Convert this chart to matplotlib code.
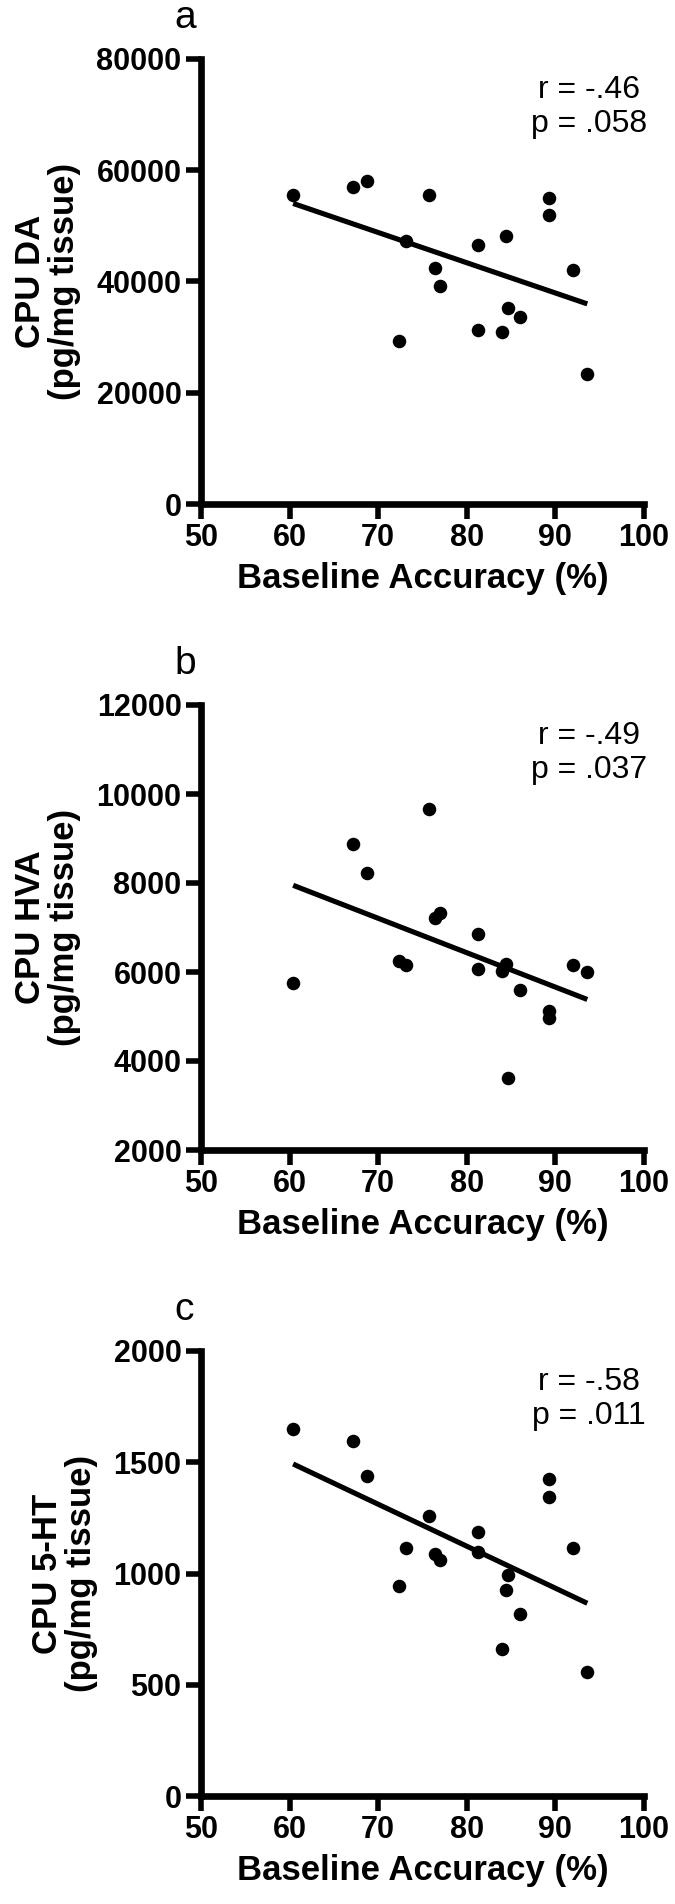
import numpy as np
import matplotlib
matplotlib.use("Agg")
import matplotlib.pyplot as plt

plt.rcParams['font.family'] = ['Liberation Sans', 'DejaVu Sans']

# Baseline accuracy (%) per animal (shared x across panels)
accuracy = [60.4, 67.1, 68.7, 72.4, 73.1, 75.7, 76.4, 77.0, 81.3, 81.3,
            84.0, 84.4, 84.7, 86.0, 89.3, 89.3, 92.0, 93.6]

cpu_da = [55600, 56900, 58000, 29300, 47200, 55600, 42500, 39200, 46600, 31300,
          30900, 48200, 35300, 33700, 55000, 51900, 42000, 23300]
cpu_hva = [5744, 8872, 8228, 6250, 6158, 9654, 7216, 7317, 6848, 6075,
           6029, 6177, 3628, 5606, 5128, 4971, 6149, 6011]
cpu_5ht = [1650, 1596, 1439, 942, 1115, 1257, 1087, 1060, 1186, 1097,
           659, 924, 994, 819, 1425, 1345, 1115, 559]

panel_letters = ["a", "b", "c"]
y_labels = ["CPU DA\n(pg/mg tissue)", "CPU HVA\n(pg/mg tissue)", "CPU 5-HT\n(pg/mg tissue)"]
stats_text = ["r = -.46\np = .058", "r = -.49\np = .037", "r = -.58\np = .011"]
y_limits = [(0, 80000), (2000, 12000), (0, 2000)]
y_ticks = [[0, 20000, 40000, 60000, 80000],
           [2000, 4000, 6000, 8000, 10000, 12000],
           [0, 500, 1000, 1500, 2000]]
x_ticks = [50, 60, 70, 80, 90, 100]
x_label = "Baseline Accuracy (%)"

W, H = 675, 1904
fig = plt.figure(figsize=(W / 100, H / 100), dpi=100)

left_px, right_px = 201, 644
tops_px = [59, 705, 1351]
plot_h = 445

series = [cpu_da, cpu_hva, cpu_5ht]
x = np.array(accuracy)

for i in range(3):
    top = tops_px[i]
    bottom = top + plot_h
    ax = fig.add_axes([left_px / W, (H - bottom) / H, (right_px - left_px) / W, plot_h / H])
    y = np.array(series[i])
    ax.scatter(x, y, s=95, color='black', zorder=3, clip_on=False, linewidths=0)
    slope, intercept = np.polyfit(x, y, 1)
    xx = np.array([x.min(), x.max()])
    ax.plot(xx, slope * xx + intercept, color='black', lw=3.7, solid_capstyle='butt', zorder=2)

    ax.set_xlim(50, 100)
    ax.set_ylim(*y_limits[i])
    ax.set_xticks(x_ticks)
    ax.set_yticks(y_ticks[i])
    for s in ['top', 'right']:
        ax.spines[s].set_visible(False)
    for s in ['left', 'bottom']:
        ax.spines[s].set_linewidth(4.8)
        ax.spines[s].set_capstyle('projecting')
    ax.tick_params(axis='both', direction='out', length=11, width=4,
                   labelsize=22, pad=3)
    for lab in ax.get_xticklabels() + ax.get_yticklabels():
        lab.set_fontweight('bold')
    ax.set_xlabel(x_label, fontsize=25, fontweight='bold', labelpad=6)
    ax.set_ylabel(y_labels[i], fontsize=25, fontweight='bold', labelpad=11,
                  linespacing=1.05)
    ax.text(0.876, 0.965, stats_text[i], transform=ax.transAxes, ha='center', va='top',
            multialignment='center', fontsize=23, linespacing=1.2)
    ax.text(-0.06, 1.07, panel_letters[i], transform=ax.transAxes, ha='left',
            va='baseline', fontsize=28)

fig.savefig("out.png", dpi=100)
